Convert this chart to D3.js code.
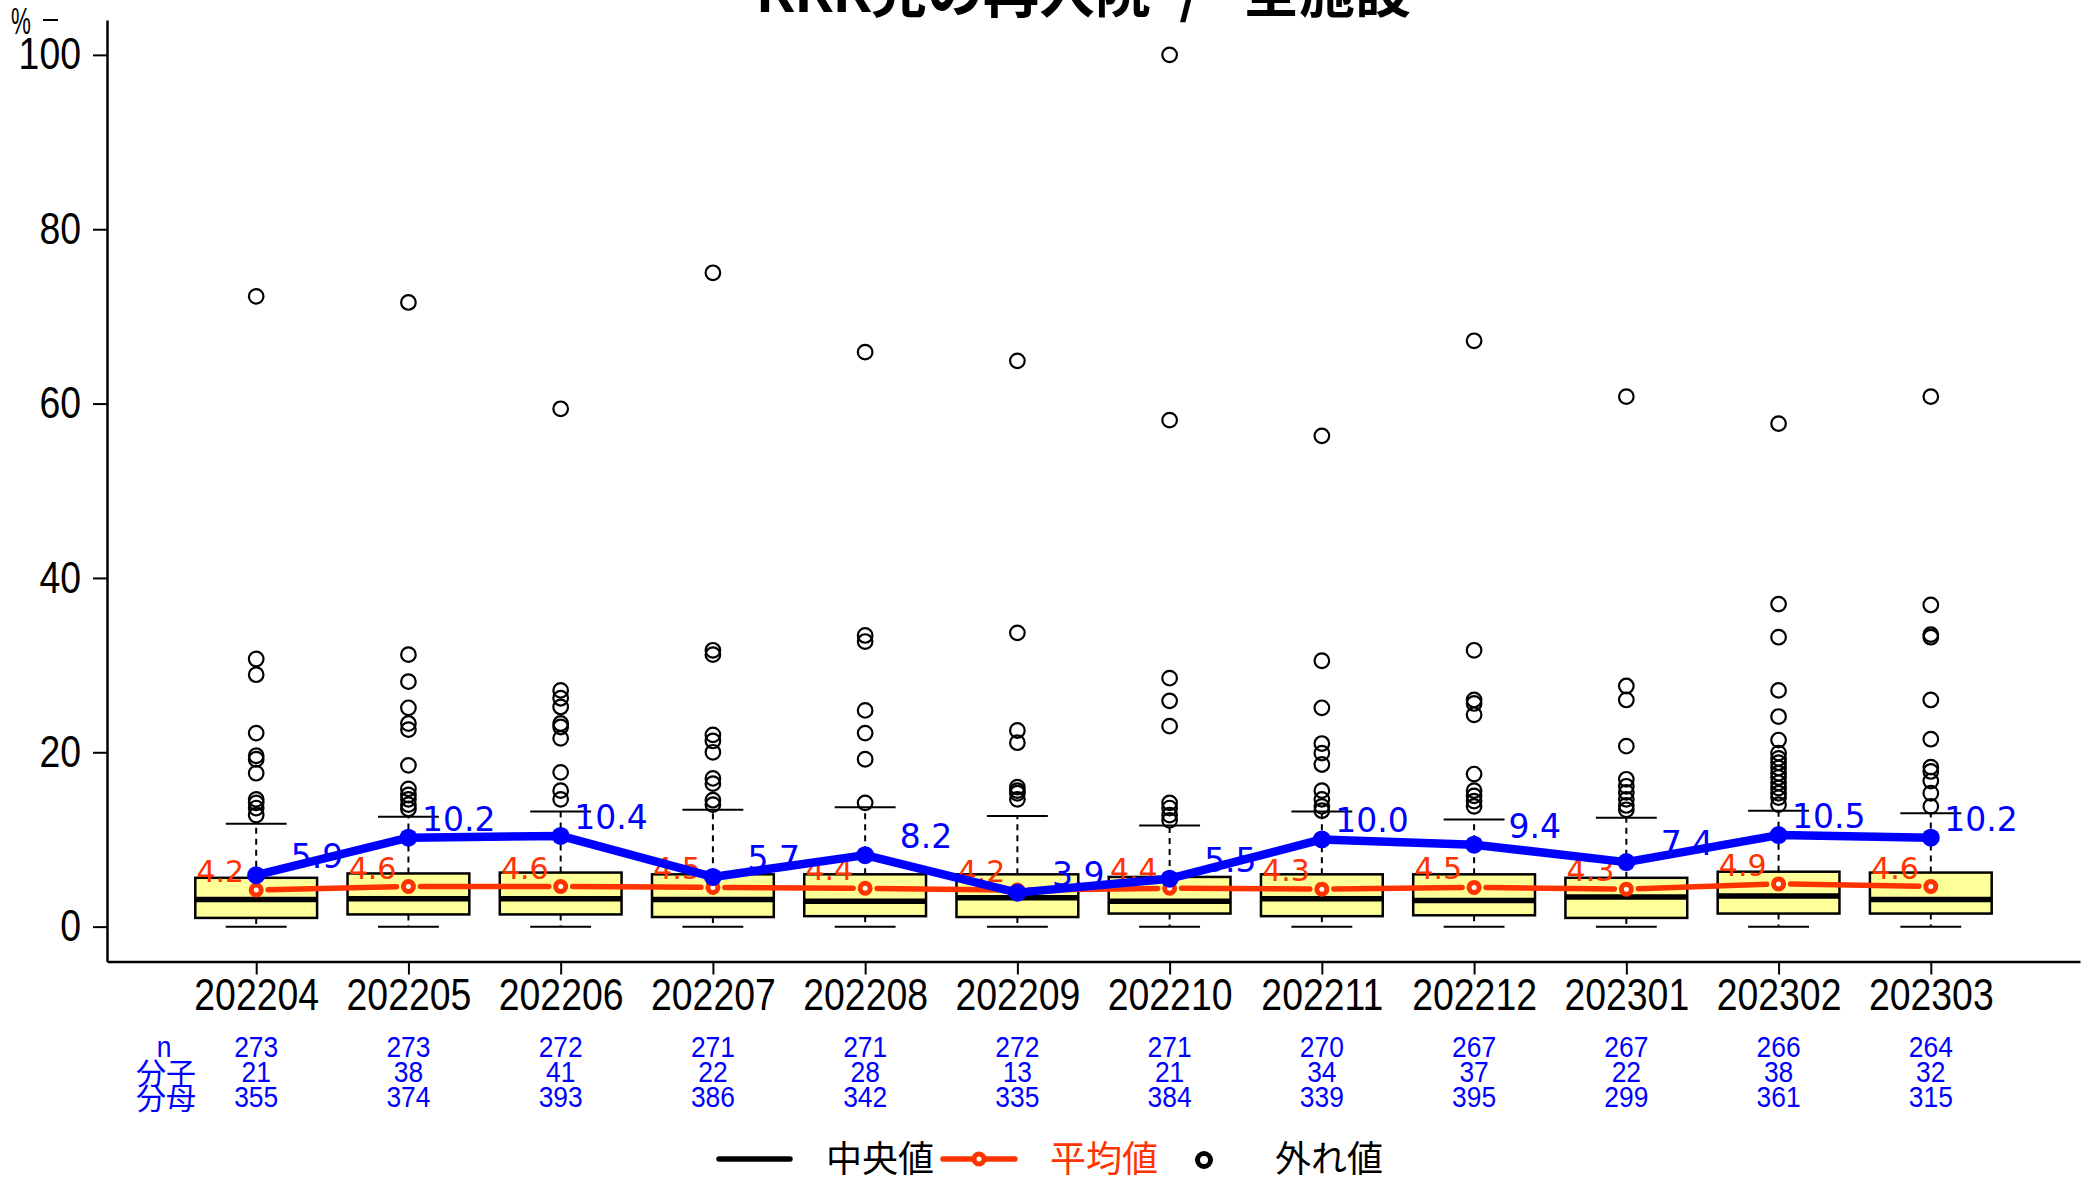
<!DOCTYPE html>
<html><head><meta charset="utf-8">
<script src="https://cdn.jsdelivr.net/npm/d3@7"></script>
<style>html,body{margin:0;padding:0;background:#fff;}</style>
</head><body>
<script>
// ---------------- data ----------------
const months = ["202204","202205","202206","202207","202208","202209","202210","202211","202212","202301","202302","202303"];
const nCount = [273,273,272,271,271,272,271,270,267,267,266,264];
const numer  = [21,38,41,22,28,13,21,34,37,22,38,32];
const denom  = [355,374,393,386,342,335,384,339,395,299,361,315];
const meanVals    = [4.2,4.6,4.6,4.5,4.4,4.2,4.4,4.3,4.5,4.3,4.9,4.6];
const overallVals = [5.9,10.2,10.4,5.7,8.2,3.9,5.5,10.0,9.4,7.4,10.5,10.2];
const whiskerLow  = [0,0,0,0,0,0,0,0,0,0,0,0];
const q1Vals      = [1.0,1.4,1.4,1.1,1.2,1.1,1.5,1.2,1.3,1.0,1.5,1.5];
const medianVals  = [3.1,3.2,3.2,3.1,2.9,3.3,2.9,3.2,3.0,3.4,3.5,3.1];
const q3Vals      = [5.6,6.1,6.2,6.0,6.0,6.0,5.7,6.0,6.0,5.6,6.3,6.2];
const whiskerHigh = [11.8,12.6,13.2,13.4,13.7,12.7,11.6,13.2,12.3,12.5,13.3,13.0];
const outliers = [
  [72.3,30.7,28.9,22.2,19.6,19.2,17.6,14.6,14.2,13.6,12.8],
  [71.6,31.2,28.1,25.1,23.3,22.6,18.5,15.8,15.1,14.6,14.0,13.5],
  [59.4,27.1,26.2,25.2,23.3,22.9,21.6,17.7,15.6,14.6],
  [75.0,31.7,31.2,22.0,21.3,20.0,17.0,16.4,14.5,14.0],
  [65.9,33.4,32.7,24.8,22.2,19.2,14.2],
  [64.9,33.7,22.5,21.1,16.0,15.6,15.3,14.6],
  [100,58.1,28.5,25.9,23.0,14.2,13.6,12.8,12.2],
  [56.3,30.5,25.1,21.0,19.9,18.6,15.6,14.6,13.8,13.3],
  [67.2,31.7,26.0,25.6,24.3,17.5,15.6,15.0,14.4,13.8],
  [60.8,27.6,26.0,20.7,16.9,16.1,15.4,14.6,13.9,13.4],
  [57.7,37.0,33.2,27.1,24.1,21.4,19.9,19.3,18.8,18.2,17.6,17.1,16.5,15.9,15.3,14.8,14.0],
  [60.8,36.9,33.5,33.2,26.0,21.5,18.3,17.8,16.7,15.3,13.8]
];
const yTicks = [0,20,40,60,80,100];
const tableLabels = ["n","分子","分母"];
const legendLabels = ["中央値","平均値","外れ値"];
const titleParts = ["KKK児の再入院","/","全施設"];

// ---------------- setup ----------------
const W = 2086, H = 1180;
const RED = "#ff3300", BLUE = "#0000ff", FILL = "#ffff99";
const SANS = "'Liberation Sans', Arial, sans-serif";
const CJK = "'Noto Sans CJK JP', 'Noto Sans', sans-serif";
const LBL = "'DejaVu Sans', sans-serif";
const COND = 0.85;

const svg = d3.select("body").append("svg").attr("width", W).attr("height", H)
  .style("background", "#fff");

const x = d3.scaleLinear().domain([0.02, 12.98]).range([107, 2080]);
const y = d3.scaleLinear().domain([-4, 104]).range([961.5, 20]);
const unit = x(2) - x(1);
const cx = i => x(i + 1);

// ---------------- axes ----------------
const yAxis = d3.axisLeft(y).tickValues(yTicks).tickSize(14).tickSizeOuter(0).tickPadding(13);
const gy = svg.append("g").attr("transform", `translate(${x(0.02)},0)`).call(yAxis);
gy.select(".domain").attr("stroke", "#000").attr("stroke-width", 2.5);
gy.selectAll(".tick line").attr("stroke", "#000").attr("stroke-width", 2);
gy.selectAll(".tick text")
  .attr("font-family", SANS).attr("font-size", 44).attr("fill", "#000")
  .attr("x", -26 / COND).attr("transform", `scale(${COND},1)`);

const xAxis = d3.axisBottom(x).tickValues(d3.range(1, 13)).tickFormat(d => months[d - 1])
  .tickSize(13).tickSizeOuter(0).tickPadding(4);
const gx = svg.append("g").attr("transform", `translate(0,${y(-4)})`).call(xAxis);
gx.select(".domain").attr("stroke", "#000").attr("stroke-width", 2.5);
gx.selectAll(".tick line").attr("stroke", "#000").attr("stroke-width", 2);
gx.selectAll(".tick text")
  .attr("font-family", SANS).attr("font-size", 44).attr("fill", "#000")
  .attr("transform", `scale(${COND},1)`);

// "%" unit label
svg.append("text").attr("transform", `translate(11,34) scale(0.62,1)`)
  .attr("font-family", SANS).attr("font-size", 36).text("%");
svg.append("line").attr("x1", 43).attr("x2", 58).attr("y1", 20).attr("y2", 20)
  .attr("stroke", "#000").attr("stroke-width", 2);

// ---------------- boxes ----------------
const boxes = svg.append("g");
months.forEach((m, i) => {
  const c = cx(i), hw = 0.4 * unit, cw = 0.2 * unit;
  const g = boxes.append("g");
  g.append("line").attr("x1", c).attr("x2", c).attr("y1", y(q3Vals[i])).attr("y2", y(whiskerHigh[i]))
    .attr("stroke", "#000").attr("stroke-width", 2).attr("stroke-dasharray", "6,5");
  g.append("line").attr("x1", c).attr("x2", c).attr("y1", y(q1Vals[i])).attr("y2", y(whiskerLow[i]))
    .attr("stroke", "#000").attr("stroke-width", 2).attr("stroke-dasharray", "6,5");
  [whiskerHigh[i], whiskerLow[i]].forEach(v => {
    g.append("line").attr("x1", c - cw).attr("x2", c + cw).attr("y1", y(v)).attr("y2", y(v))
      .attr("stroke", "#000").attr("stroke-width", 2);
  });
  g.append("rect").attr("x", c - hw).attr("width", 2 * hw)
    .attr("y", y(q3Vals[i])).attr("height", y(q1Vals[i]) - y(q3Vals[i]))
    .attr("fill", FILL).attr("stroke", "#000").attr("stroke-width", 2.5);
  g.append("line").attr("x1", c - hw).attr("x2", c + hw).attr("y1", y(medianVals[i])).attr("y2", y(medianVals[i]))
    .attr("stroke", "#000").attr("stroke-width", 5.5);
  g.selectAll("circle.o").data(outliers[i]).enter().append("circle")
    .attr("cx", c).attr("cy", d => y(d)).attr("r", 7.3)
    .attr("fill", "none").attr("stroke", "#000").attr("stroke-width", 2.2);
});

// ---------------- mean (red) ----------------
const red = svg.append("g");
const gap = 12;
for (let i = 0; i < months.length - 1; i++) {
  const x1 = cx(i), y1 = y(meanVals[i]), x2 = cx(i + 1), y2 = y(meanVals[i + 1]);
  const dx = x2 - x1, dy = y2 - y1, L = Math.hypot(dx, dy);
  red.append("line")
    .attr("x1", x1 + dx / L * gap).attr("y1", y1 + dy / L * gap)
    .attr("x2", x2 - dx / L * gap).attr("y2", y2 - dy / L * gap)
    .attr("stroke", RED).attr("stroke-width", 5.5).attr("stroke-linecap", "round");
}
red.selectAll("circle").data(meanVals).enter().append("circle")
  .attr("cx", (d, i) => cx(i)).attr("cy", d => y(d)).attr("r", 5)
  .attr("fill", "#fff").attr("stroke", RED).attr("stroke-width", 5);
red.selectAll("text").data(meanVals).enter().append("text")
  .attr("x", (d, i) => cx(i) - 12).attr("y", d => y(d) - 8)
  .attr("text-anchor", "end").attr("font-family", LBL).attr("font-size", 30)
  .attr("fill", RED).text(d => d.toFixed(1));

// ---------------- overall (blue) ----------------
const blue = svg.append("g");
blue.append("path").datum(overallVals)
  .attr("d", d3.line().x((d, i) => cx(i)).y(d => y(d)))
  .attr("fill", "none").attr("stroke", BLUE).attr("stroke-width", 8.5).attr("stroke-linejoin", "round");
blue.selectAll("circle").data(overallVals).enter().append("circle")
  .attr("cx", (d, i) => cx(i)).attr("cy", d => y(d)).attr("r", 9).attr("fill", BLUE);
blue.selectAll("text").data(overallVals).enter().append("text")
  .attr("x", (d, i) => cx(i) + 87).attr("y", d => y(d) - 7)
  .attr("text-anchor", "end").attr("font-family", LBL).attr("font-size", 33)
  .attr("fill", BLUE).text(d => d.toFixed(1));

// ---------------- table ----------------
const rowsY = [1056.5, 1081.5, 1106.5];
const rows = [nCount, numer, denom];
const tbl = svg.append("g");
rows.forEach((arr, r) => {
  arr.forEach((v, i) => {
    tbl.append("text").attr("transform", `translate(${cx(i)},${rowsY[r]}) scale(0.88,1)`)
      .attr("text-anchor", "middle").attr("font-family", SANS).attr("font-size", 30)
      .attr("fill", BLUE).text(v);
  });
});
tbl.append("text").attr("transform", `translate(164,${rowsY[0]}) scale(0.88,1)`)
  .attr("text-anchor", "middle").attr("font-family", SANS).attr("font-size", 30)
  .attr("fill", BLUE).text(tableLabels[0]);
[1, 2].forEach(r => {
  tbl.append("text").attr("x", 166).attr("y", rowsY[r] + 2)
    .attr("text-anchor", "middle").attr("font-family", CJK).attr("font-size", 30)
    .attr("fill", BLUE).text(tableLabels[r]);
});

// ---------------- legend ----------------
const lg = svg.append("g");
const ly = 1159;
lg.append("line").attr("x1", 719).attr("x2", 790).attr("y1", ly).attr("y2", ly)
  .attr("stroke", "#000").attr("stroke-width", 5.5).attr("stroke-linecap", "round");
lg.append("text").attr("x", 826).attr("y", ly + 13).attr("font-family", CJK).attr("font-size", 36)
  .attr("fill", "#000").text(legendLabels[0]);
lg.append("line").attr("x1", 943).attr("x2", 1015).attr("y1", ly).attr("y2", ly)
  .attr("stroke", RED).attr("stroke-width", 5.5).attr("stroke-linecap", "round");
lg.append("circle").attr("cx", 979).attr("cy", ly).attr("r", 5)
  .attr("fill", "#fff").attr("stroke", RED).attr("stroke-width", 5);
lg.append("text").attr("x", 1050).attr("y", ly + 13).attr("font-family", CJK).attr("font-size", 36)
  .attr("fill", RED).text(legendLabels[1]);
lg.append("circle").attr("cx", 1204).attr("cy", ly + 1).attr("r", 6.5)
  .attr("fill", "none").attr("stroke", "#000").attr("stroke-width", 5);
lg.append("text").attr("x", 1275).attr("y", ly + 13).attr("font-family", CJK).attr("font-size", 36)
  .attr("fill", "#000").text(legendLabels[2]);

// ---------------- title (mostly clipped at top) ----------------
const tt = svg.append("g").attr("font-family", CJK).attr("font-size", 56).attr("font-weight", "bold");
tt.append("text").attr("x", 1151).attr("y", 12).attr("text-anchor", "end").text(titleParts[0]);
tt.append("text").attr("x", 1190).attr("y", 12).attr("text-anchor", "middle").text(titleParts[1]);
tt.append("text").attr("x", 1243).attr("y", 12).attr("text-anchor", "start").text(titleParts[2]);
</script>
</body></html>
